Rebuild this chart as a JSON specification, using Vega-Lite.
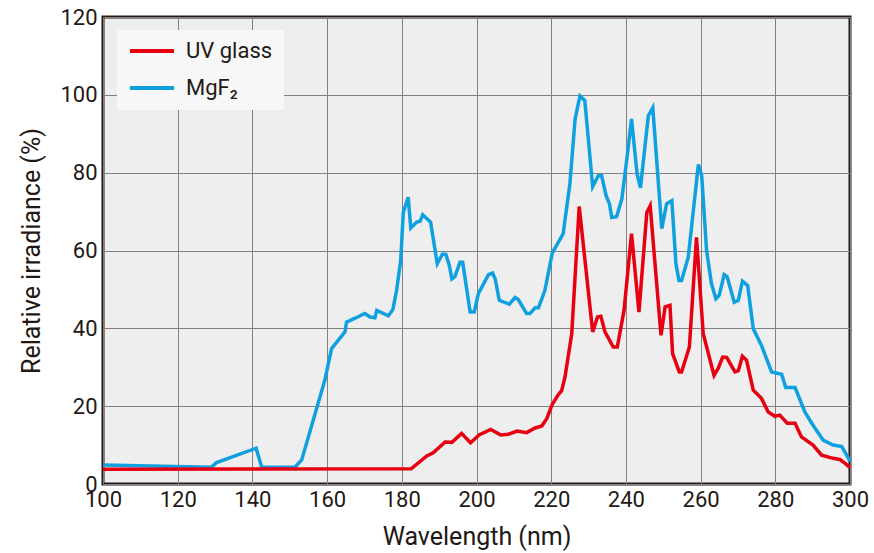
{
  "$schema": "https://vega.github.io/schema/vega-lite/v6.json",
  "autosize": "none",
  "width": 747,
  "height": 467,
  "padding": {"left": 103, "top": 17, "right": 24, "bottom": 69},
  "background": "#ffffff",
  "config": {
    "font": "Roboto",
    "view": {"fill": "#eeeeee", "stroke": "#231815", "strokeWidth": 3},
    "axis": {
      "labelFont": "Roboto", "titleFont": "Roboto",
      "labelFontSize": 22, "titleFontSize": 25, "labelColor": "#231815", "titleColor": "#231815",
      "titleFontWeight": "normal", "domain": false, "ticks": false,
      "gridColor": "#808080", "gridWidth": 1, "gridOpacity": 1
    }
  },
  "datasets": {
    "spec": [
      {"wl": 100, "v": 4.9, "s": "MgF₂"}, {"wl": 129, "v": 4.3, "s": "MgF₂"}, {"wl": 130.4, "v": 5.5, "s": "MgF₂"}, {"wl": 141, "v": 9.2, "s": "MgF₂"}, {"wl": 142.5, "v": 4.3, "s": "MgF₂"}, {"wl": 151.4, "v": 4.3, "s": "MgF₂"}, {"wl": 153.2, "v": 6.2, "s": "MgF₂"}, {"wl": 159.4, "v": 26.7, "s": "MgF₂"}, {"wl": 161.2, "v": 34.8, "s": "MgF₂"}, {"wl": 164.8, "v": 39.1, "s": "MgF₂"}, {"wl": 165.2, "v": 41.6, "s": "MgF₂"}, {"wl": 167.5, "v": 42.6, "s": "MgF₂"}, {"wl": 170.1, "v": 43.8, "s": "MgF₂"}, {"wl": 171.5, "v": 42.9, "s": "MgF₂"}, {"wl": 172.8, "v": 42.7, "s": "MgF₂"}, {"wl": 173.3, "v": 44.6, "s": "MgF₂"}, {"wl": 176.4, "v": 43.2, "s": "MgF₂"}, {"wl": 177.6, "v": 44.8, "s": "MgF₂"}, {"wl": 178.6, "v": 49.7, "s": "MgF₂"}, {"wl": 179.7, "v": 57.4, "s": "MgF₂"}, {"wl": 180.4, "v": 69.8, "s": "MgF₂"}, {"wl": 181.7, "v": 73.7, "s": "MgF₂"}, {"wl": 182.4, "v": 65.8, "s": "MgF₂"}, {"wl": 184.0, "v": 67.3, "s": "MgF₂"}, {"wl": 184.9, "v": 67.5, "s": "MgF₂"}, {"wl": 185.6, "v": 69.2, "s": "MgF₂"}, {"wl": 187.7, "v": 67.3, "s": "MgF₂"}, {"wl": 189.5, "v": 56.6, "s": "MgF₂"}, {"wl": 190.9, "v": 59.1, "s": "MgF₂"}, {"wl": 191.8, "v": 59.0, "s": "MgF₂"}, {"wl": 192.7, "v": 56.2, "s": "MgF₂"}, {"wl": 193.4, "v": 52.7, "s": "MgF₂"}, {"wl": 194.2, "v": 53.3, "s": "MgF₂"}, {"wl": 195.6, "v": 57.0, "s": "MgF₂"}, {"wl": 196.3, "v": 57.0, "s": "MgF₂"}, {"wl": 198.3, "v": 44.2, "s": "MgF₂"}, {"wl": 199.4, "v": 44.2, "s": "MgF₂"}, {"wl": 200.5, "v": 48.9, "s": "MgF₂"}, {"wl": 203.2, "v": 53.8, "s": "MgF₂"}, {"wl": 204.3, "v": 54.2, "s": "MgF₂"}, {"wl": 205.0, "v": 52.7, "s": "MgF₂"}, {"wl": 206.1, "v": 47.2, "s": "MgF₂"}, {"wl": 208.8, "v": 46.2, "s": "MgF₂"}, {"wl": 210.3, "v": 47.9, "s": "MgF₂"}, {"wl": 211.2, "v": 47.4, "s": "MgF₂"}, {"wl": 213.4, "v": 43.8, "s": "MgF₂"}, {"wl": 214.3, "v": 43.8, "s": "MgF₂"}, {"wl": 215.7, "v": 45.3, "s": "MgF₂"}, {"wl": 216.6, "v": 45.3, "s": "MgF₂"}, {"wl": 218.3, "v": 49.7, "s": "MgF₂"}, {"wl": 220.3, "v": 59.4, "s": "MgF₂"}, {"wl": 223.2, "v": 64.3, "s": "MgF₂"}, {"wl": 225.0, "v": 77.1, "s": "MgF₂"}, {"wl": 226.4, "v": 93.8, "s": "MgF₂"}, {"wl": 227.7, "v": 99.7, "s": "MgF₂"}, {"wl": 229.0, "v": 98.5, "s": "MgF₂"}, {"wl": 231.1, "v": 76.4, "s": "MgF₂"}, {"wl": 232.6, "v": 79.2, "s": "MgF₂"}, {"wl": 233.5, "v": 79.2, "s": "MgF₂"}, {"wl": 234.7, "v": 74.1, "s": "MgF₂"}, {"wl": 235.6, "v": 72.0, "s": "MgF₂"}, {"wl": 236.2, "v": 68.5, "s": "MgF₂"}, {"wl": 237.5, "v": 68.7, "s": "MgF₂"}, {"wl": 238.9, "v": 73.2, "s": "MgF₂"}, {"wl": 240.2, "v": 83.1, "s": "MgF₂"}, {"wl": 241.5, "v": 93.8, "s": "MgF₂"}, {"wl": 243.0, "v": 79.7, "s": "MgF₂"}, {"wl": 243.9, "v": 76.1, "s": "MgF₂"}, {"wl": 246.0, "v": 94.6, "s": "MgF₂"}, {"wl": 247.2, "v": 96.7, "s": "MgF₂"}, {"wl": 249.6, "v": 65.6, "s": "MgF₂"}, {"wl": 250.9, "v": 72.0, "s": "MgF₂"}, {"wl": 252.3, "v": 72.8, "s": "MgF₂"}, {"wl": 253.4, "v": 56.6, "s": "MgF₂"}, {"wl": 254.2, "v": 52.3, "s": "MgF₂"}, {"wl": 254.9, "v": 52.3, "s": "MgF₂"}, {"wl": 256.7, "v": 58.3, "s": "MgF₂"}, {"wl": 259.4, "v": 82.1, "s": "MgF₂"}, {"wl": 260.3, "v": 79.2, "s": "MgF₂"}, {"wl": 261.6, "v": 60.0, "s": "MgF₂"}, {"wl": 262.9, "v": 51.5, "s": "MgF₂"}, {"wl": 264.1, "v": 47.6, "s": "MgF₂"}, {"wl": 265.0, "v": 48.5, "s": "MgF₂"}, {"wl": 266.3, "v": 53.8, "s": "MgF₂"}, {"wl": 267.1, "v": 53.3, "s": "MgF₂"}, {"wl": 269.0, "v": 46.7, "s": "MgF₂"}, {"wl": 270.1, "v": 47.2, "s": "MgF₂"}, {"wl": 271.2, "v": 52.1, "s": "MgF₂"}, {"wl": 272.6, "v": 51.0, "s": "MgF₂"}, {"wl": 274.1, "v": 39.9, "s": "MgF₂"}, {"wl": 276.3, "v": 35.6, "s": "MgF₂"}, {"wl": 279.0, "v": 28.8, "s": "MgF₂"}, {"wl": 281.7, "v": 28.2, "s": "MgF₂"}, {"wl": 282.8, "v": 24.8, "s": "MgF₂"}, {"wl": 285.3, "v": 24.8, "s": "MgF₂"}, {"wl": 287.9, "v": 18.5, "s": "MgF₂"}, {"wl": 290.1, "v": 15.1, "s": "MgF₂"}, {"wl": 292.8, "v": 11.3, "s": "MgF₂"}, {"wl": 295.5, "v": 10.0, "s": "MgF₂"}, {"wl": 297.8, "v": 9.6, "s": "MgF₂"}, {"wl": 299.6, "v": 6.6, "s": "MgF₂"}, {"wl": 300, "v": 5.8, "s": "MgF₂"},
      {"wl": 100, "v": 3.8, "s": "UV glass"}, {"wl": 182.5, "v": 3.9, "s": "UV glass"}, {"wl": 186.7, "v": 7.2, "s": "UV glass"}, {"wl": 188.4, "v": 8.0, "s": "UV glass"}, {"wl": 191.6, "v": 10.8, "s": "UV glass"}, {"wl": 193.4, "v": 10.7, "s": "UV glass"}, {"wl": 196.0, "v": 13.0, "s": "UV glass"}, {"wl": 198.4, "v": 10.6, "s": "UV glass"}, {"wl": 200.7, "v": 12.6, "s": "UV glass"}, {"wl": 203.8, "v": 14.0, "s": "UV glass"}, {"wl": 206.5, "v": 12.6, "s": "UV glass"}, {"wl": 208.5, "v": 12.8, "s": "UV glass"}, {"wl": 210.9, "v": 13.6, "s": "UV glass"}, {"wl": 213.4, "v": 13.2, "s": "UV glass"}, {"wl": 215.7, "v": 14.4, "s": "UV glass"}, {"wl": 217.5, "v": 14.9, "s": "UV glass"}, {"wl": 218.8, "v": 16.8, "s": "UV glass"}, {"wl": 220.3, "v": 20.5, "s": "UV glass"}, {"wl": 221.8, "v": 22.8, "s": "UV glass"}, {"wl": 222.8, "v": 24.0, "s": "UV glass"}, {"wl": 223.7, "v": 27.5, "s": "UV glass"}, {"wl": 225.5, "v": 38.6, "s": "UV glass"}, {"wl": 227.5, "v": 71.3, "s": "UV glass"}, {"wl": 231.1, "v": 39.1, "s": "UV glass"}, {"wl": 232.4, "v": 42.9, "s": "UV glass"}, {"wl": 233.3, "v": 43.1, "s": "UV glass"}, {"wl": 234.4, "v": 39.1, "s": "UV glass"}, {"wl": 236.6, "v": 35.2, "s": "UV glass"}, {"wl": 237.7, "v": 35.2, "s": "UV glass"}, {"wl": 239.5, "v": 44.6, "s": "UV glass"}, {"wl": 241.5, "v": 64.3, "s": "UV glass"}, {"wl": 243.5, "v": 44.2, "s": "UV glass"}, {"wl": 245.6, "v": 69.8, "s": "UV glass"}, {"wl": 246.5, "v": 71.5, "s": "UV glass"}, {"wl": 249.4, "v": 38.2, "s": "UV glass"}, {"wl": 250.5, "v": 45.5, "s": "UV glass"}, {"wl": 251.8, "v": 45.9, "s": "UV glass"}, {"wl": 252.5, "v": 33.5, "s": "UV glass"}, {"wl": 254.3, "v": 28.8, "s": "UV glass"}, {"wl": 254.9, "v": 28.8, "s": "UV glass"}, {"wl": 257.0, "v": 35.2, "s": "UV glass"}, {"wl": 258.9, "v": 63.4, "s": "UV glass"}, {"wl": 260.7, "v": 38.6, "s": "UV glass"}, {"wl": 263.6, "v": 27.9, "s": "UV glass"}, {"wl": 264.7, "v": 29.7, "s": "UV glass"}, {"wl": 265.9, "v": 32.6, "s": "UV glass"}, {"wl": 267.0, "v": 32.5, "s": "UV glass"}, {"wl": 269.2, "v": 28.8, "s": "UV glass"}, {"wl": 270.1, "v": 29.1, "s": "UV glass"}, {"wl": 271.2, "v": 32.8, "s": "UV glass"}, {"wl": 272.3, "v": 31.8, "s": "UV glass"}, {"wl": 274.1, "v": 24.1, "s": "UV glass"}, {"wl": 276.3, "v": 22.0, "s": "UV glass"}, {"wl": 278.1, "v": 18.5, "s": "UV glass"}, {"wl": 279.9, "v": 17.4, "s": "UV glass"}, {"wl": 281.2, "v": 17.7, "s": "UV glass"}, {"wl": 283.2, "v": 15.6, "s": "UV glass"}, {"wl": 285.3, "v": 15.6, "s": "UV glass"}, {"wl": 287.0, "v": 12.1, "s": "UV glass"}, {"wl": 290.1, "v": 10.0, "s": "UV glass"}, {"wl": 292.4, "v": 7.4, "s": "UV glass"}, {"wl": 295.5, "v": 6.6, "s": "UV glass"}, {"wl": 297.3, "v": 6.3, "s": "UV glass"}, {"wl": 298.7, "v": 5.3, "s": "UV glass"}, {"wl": 300, "v": 4.2, "s": "UV glass"}
    ]
  },
  "data": {"name": "spec"},
  "encoding": {
    "x": {"field": "wl", "type": "quantitative", "scale": {"domain": [100, 300], "nice": false, "zero": false},
      "axis": {"values": [100,120,140,160,180,200,220,240,260,280,300], "title": "Wavelength (nm)", "labelPadding": 5, "titlePadding": 14, "labelFlush": false}},
    "y": {"field": "v", "type": "quantitative", "scale": {"domain": [0, 120], "nice": false},
      "axis": {"values": [0,20,40,60,80,100,120], "title": "Relative irradiance (%)", "labelPadding": 6, "titlePadding": 15}},
    "color": {"field": "s", "type": "nominal",
      "scale": {"domain": ["UV glass", "MgF₂"], "range": ["#e60012", "#0fa0e0"]},
      "legend": {"title": null, "orient": "none", "legendX": 14, "legendY": 13,
        "fillColor": "#f7f7f7", "padding": 11, "symbolType": "stroke", "symbolSize": 1936,
        "symbolStrokeWidth": 4, "labelFont": "Roboto", "labelFontSize": 22, "labelColor": "#231815",
        "clipHeight": 20, "rowPadding": 15, "labelOffset": 10}}
  },
  "layer": [
    {"transform": [{"filter": "datum.s === 'MgF₂'"}], "mark": {"type": "line", "strokeWidth": 3.5, "strokeJoin": "miter"}},
    {"transform": [{"filter": "datum.s === 'UV glass'"}], "mark": {"type": "line", "strokeWidth": 3.5, "strokeJoin": "miter"}}
  ]
}
